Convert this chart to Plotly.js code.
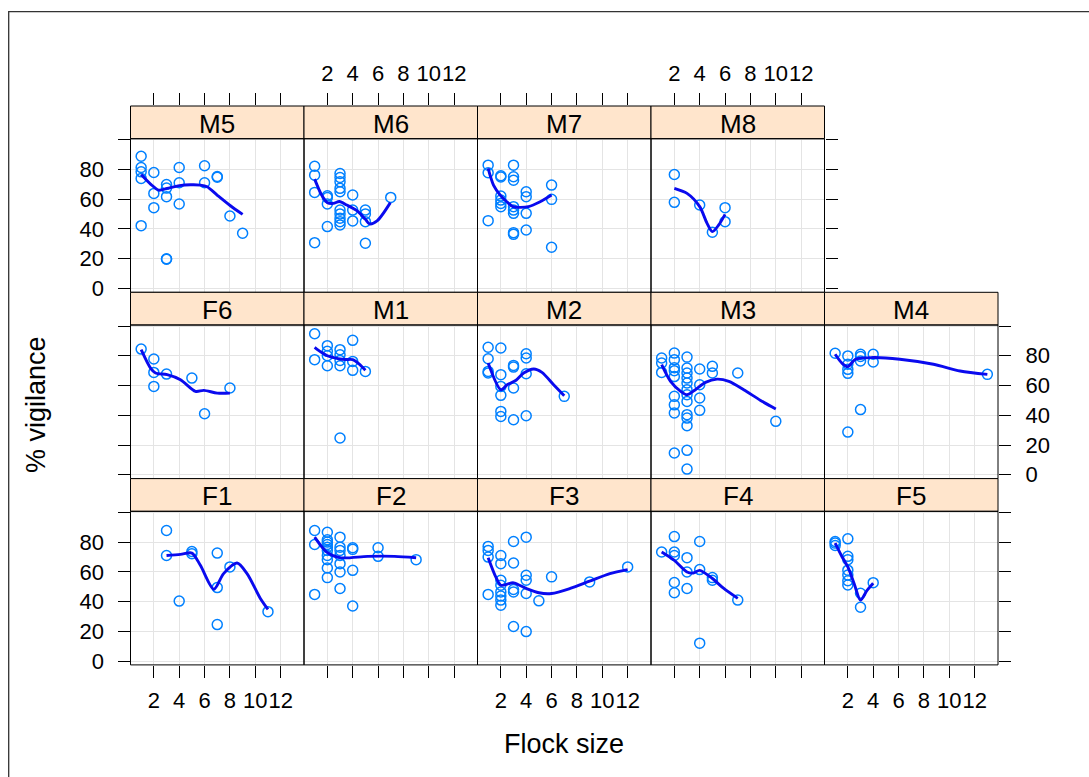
<!DOCTYPE html>
<html>
<head>
<meta charset="utf-8">
<script src="https://cdn.plot.ly/plotly-3.0.1.min.js"></script>
<style>html,body{margin:0;padding:0;background:#fff;}#chart{width:1089px;height:777px;}</style>
</head>
<body>
<div id="chart"></div>
<script>
// ---------------- data ----------------
const panelNames = ["M5","M6","M7","M8","F6","M1","M2","M3","M4","F1","F2","F3","F4","F5"];
const xTickVals = [2,4,6,8,10,12];
const xTickText = ["2","4","6","8","10","12"];
const yTickVals = [0,20,40,60,80,100];
const yTickText = ["0","20","40","60","80",""];

const M5_x = [1,1,1,1,1, 2,2,2, 3,3,3,3,3, 4,4,4, 6,6, 7,7, 8, 9];
const M5_y = [88.9,81.3,78.4,74.0,42.2, 78.0,63.9,54.3, 69.9,67.5,61.7,19.9,19.6, 81.3,71.1,56.8, 82.5,71.1, 75.3,74.8, 48.7, 37.1];
const M5_sx = [1,1.74,2.39,3.05,4.02,4.89,5.67,6.2,6.99,8.04,9];
const M5_sy = [76.6,70.2,66.1,67.3,69.1,69.7,69.5,68.4,62.8,55.6,49.8];

const M6_x = [1,1,1,1, 2,2,2,2, 3,3,3,3,3,3,3,3,3,3, 4,4,4, 5,5,5,5, 7];
const M6_y = [82.2,76.2,64.6,30.8, 62.3,61.2,56.8,41.6, 77.3,74.6,71.7,67.3,65.0,52.7,50.1,47.2,44.9,42.7, 62.8,52.7,45.4, 52.7,50.1,44.9,30.4, 61.2];
const M6_sx = [1,1.55,2,2.48,2.95,3.53,4.33,5,5.33,5.92,6.97];
const M6_sy = [73.5,62.8,57.7,57.2,58.5,56.1,52.3,46.5,43.4,45.4,57.7];

const M7_x = [1,1,1, 2,2,2,2,2,2, 3,3,3,3,3,3,3,3, 4,4,4,4, 6,6,6];
const M7_y = [82.9,77.8,45.6, 75.8,75.0,62.1,59.4,57.2,55.0, 82.9,75.1,72.8,55.0,52.7,50.5,37.5,36.4, 65.0,61.7,50.5,39.3, 69.5,59.9,27.7];
const M7_sx = [1,1.42,1.95,2.47,2.95,3.53,4.18,5.1,6];
const M7_sy = [80.7,69.5,62.8,58.3,55.0,54.5,55.0,58.3,62.8];

const M8_x = [2,2,4,5,6,6];
const M8_y = [76.6,57.9,56.1,37.8,54.3,44.9];
const M8_sx = [2,3,4,4.58,5,5.5,6];
const M8_sy = [67.3,63.9,55.0,43.8,38.2,42.7,49.8];

const F6_x = [1,2,2,2,3,5,6,8];
const F6_y = [84.5,77.8,68.8,59.4,67.7,65.0,41.0,58.3];
const F6_sx = [1,1.74,2.13,3.05,4.1,5.28,5.94,7,8];
const F6_sy = [84.1,71.7,68.4,67.3,63.9,56.1,56.7,54.9,54.9];

const M1_x = [1,1, 2,2,2,2, 3,3,3,3,3, 4,4,4, 5];
const M1_y = [94.8,77.4, 86.8,83.0,80.0,73.3, 84.1,80.7,76.9,73.3,24.7, 90.4,76.2,70.2, 69.5];
const M1_sx = [1,1.5,2,2.5,3,3.5,4,4.5,5];
const M1_sy = [85.7,82.5,80.0,78.8,77.8,77.5,77.4,74.5,70.2];

const M2_x = [1,1,1,1, 2,2,2,2,2,2, 3,3,3,3, 4,4,4,4, 7];
const M2_y = [85.7,78.0,69.5,68.4, 85.2,67.3,59.4,53.4,42.6,39.2, 73.5,72.4,58.3,37.0, 81.4,78.5,67.9,39.7, 52.7];
const M2_sx = [1,2,2.5,3.2,3.8,4.6,5.24,6.16,7];
const M2_sy = [75.1,57.2,60.5,63.5,68.4,71.1,68.8,60.5,53.1];

const M3_x = [1,1,1, 2,2,2,2,2,2,2,2,2, 3,3,3,3,3,3,3,3,3,3,3,3,3, 4,4,4,4, 5,5, 7, 10];
const M3_y = [78.5,75.1,68.8, 81.8,77.4,72.0,70.0,66.0,52.7,47.0,41.5,14.6,
              79.1,71.7,68.4,65.0,61.7,57.2,53.8,49.3,40.4,38.1,33.0,16.4,3.8,
              71.1,60.5,51.6,43.3, 72.9,68.4, 68.4, 35.9];
const M3_sx = [1,1.7,2.5,3,3.66,4.45,5.37,6.3,7.47,8.8,10];
const M3_sy = [74,62.8,56.1,53.8,57.2,62.1,64.3,62.8,57.2,50,44.2];

const M4_x = [1,2,2,2,2,2,3,3,3,3,4,4,13];
const M4_y = [81.7,79.9,74.3,70.9,68.2,28.7,81.0,79.5,76.5,43.8,81.0,75.8,67.5];
const M4_sx = [1,1.55,2,2.6,4,6.1,8.75,10.85,13];
const M4_sy = [81,74.9,72.7,77.7,78.8,77.7,74.3,69.8,67.5];

const F1_x = [3,3,4,5,5,7,7,7,8,11];
const F1_y = [87.8,71.0,40.3,73.7,72.2,72.6,49.4,24.5,63.3,33.2];
const F1_sx = [3,4.1,5,5.67,6.73,7.5,8.56,9.35,10.4,11];
const F1_sy = [71,71.7,72.6,64.4,48.3,58.8,65.9,58.8,42.1,34.7];

const F2_x = [1,1,1, 2,2,2,2,2,2,2,2,2,2, 3,3,3,3,3,3,3, 4,4,4,4, 6,6, 9];
const F2_y = [87.8,78.4,44.8, 86.6,81.5,80.0,78.4,76.5,74.4,71.0,68.2,62.6,56.1,
              83.3,76.6,74.4,71.0,65.5,59.9,48.8, 76.2,75.1,61.0,37.0, 76.2,70.4, 68.2];
const F2_sx = [1,1.95,3,5.17,7.3,9];
const F2_sy = [83.3,73.3,69.5,70.4,70.4,69.5];

const F3_x = [1,1,1,1, 2,2,2,2,2,2,2,2, 3,3,3,3,3, 4,4,4,4,4, 5, 6, 9, 12];
const F3_y = [77.1,74.4,69.9,44.8, 71.0,65.5,54.3,51.0,46.5,43.7,41.0,37.6,
              80.4,65.9,48.1,46.5,23.2, 83.3,57.7,54.3,45.4,19.8, 40.5, 56.6, 53.2, 63.3];
const F3_sx = [1,1.6,2,3,4,5,6,7.47,9,10.6,12];
const F3_sy = [69.5,56.6,51,52.6,48.8,45.9,45.4,48.8,53.7,58.8,61.5];

const F4_x = [1, 2,2,2,2,2, 3,3,3, 4,4,4, 5,5, 7];
const F4_y = [73.3, 83.7,73.3,71.0,52.8,45.9, 69.5,59.9,48.8, 80.4,61.5,12.0, 56.1,54.3, 41.0];
const F4_sx = [1,2,3,3.5,4,5,5.9,7];
const F4_sy = [73.3,67.7,59.9,59.2,61,55.5,48.8,42.1];

const F5_x = [1,1,1, 2,2,2,2,2,2,2, 3,3, 4];
const F5_y = [80.4,79.3,77.7, 82.2,70.4,68.2,61.1,57.8,54.0,51.1, 45.6,36.2, 52.7];
const F5_sx = [1,1.55,2,2.5,3,3.5,4];
const F5_sy = [79.3,70,63.3,52,41,47.3,52.3];

const pointsX = {M5:M5_x,M6:M6_x,M7:M7_x,M8:M8_x,F6:F6_x,M1:M1_x,M2:M2_x,M3:M3_x,M4:M4_x,F1:F1_x,F2:F2_x,F3:F3_x,F4:F4_x,F5:F5_x};
const pointsY = {M5:M5_y,M6:M6_y,M7:M7_y,M8:M8_y,F6:F6_y,M1:M1_y,M2:M2_y,M3:M3_y,M4:M4_y,F1:F1_y,F2:F2_y,F3:F3_y,F4:F4_y,F5:F5_y};
const smoothX = {M5:M5_sx,M6:M6_sx,M7:M7_sx,M8:M8_sx,F6:F6_sx,M1:M1_sx,M2:M2_sx,M3:M3_sx,M4:M4_sx,F1:F1_sx,F2:F2_sx,F3:F3_sx,F4:F4_sx,F5:F5_sx};
const smoothY = {M5:M5_sy,M6:M6_sy,M7:M7_sy,M8:M8_sy,F6:F6_sy,M1:M1_sy,M2:M2_sy,M3:M3_sy,M4:M4_sy,F1:F1_sy,F2:F2_sy,F3:F3_sy,F4:F4_sy,F5:F5_sy};

// ---------------- layout geometry ----------------
const W = 1089, H = 777;
const colLeft = [130.5, 304, 477.5, 651, 824.5];
const colW = 173.5;
const rowTop0 = 106, rowH = 186.3, stripH = 32.7, panelH = rowH - stripH;
const yLo = -2.6, yHi = 100.7;
const yTop = yHi + (yHi - yLo) * stripH / panelH;
const xRange = [0.16, 13.84];
const FONT = "Liberation Sans, Arial, sans-serif";
const TICKSIZE = 22, STRIPSIZE = 26, TITLESIZE = 27;

// panel positions: [row, col]
const grid = {M5:[0,0],M6:[0,1],M7:[0,2],M8:[0,3],
              F6:[1,0],M1:[1,1],M2:[1,2],M3:[1,3],M4:[1,4],
              F1:[2,0],F2:[2,1],F3:[2,2],F4:[2,3],F5:[2,4]};
const lastCol = [3,4,4];

const data = [];
const layout = {
  width: W, height: H,
  margin: {l:0, r:0, t:0, b:0},
  paper_bgcolor: "#ffffff", plot_bgcolor: "#ffffff",
  showlegend: false,
  font: {family: FONT, color: "#000"},
  shapes: [], annotations: []
};

panelNames.forEach((name, k) => {
  const [r, c] = grid[name];
  const xa = k === 0 ? "x" : "x" + (k + 1);
  const ya = k === 0 ? "y" : "y" + (k + 1);
  const xKey = k === 0 ? "xaxis" : "xaxis" + (k + 1);
  const yKey = k === 0 ? "yaxis" : "yaxis" + (k + 1);
  const left = colLeft[c], right = left + colW;
  const sTop = rowTop0 + r * rowH;
  const pTop = sTop + stripH;
  const pBot = sTop + rowH;

  data.push({
    type: "scatter", mode: "markers", x: pointsX[name], y: pointsY[name],
    xaxis: xa, yaxis: ya, hoverinfo: "skip",
    marker: {symbol: "circle-open", size: 10, color: "#0080ff", line: {width: 1.5, color: "#0080ff"}}
  });
  data.push({
    type: "scatter", mode: "lines", x: smoothX[name], y: smoothY[name],
    xaxis: xa, yaxis: ya, hoverinfo: "skip",
    line: {color: "#0a0aee", width: 2.9, shape: "spline", smoothing: 0.8}
  });

  const xTicks = (r === 0 || r === 2);
  const xLabels = (r === 0 && (c === 1 || c === 3)) || (r === 2 && (c % 2 === 0));
  layout[xKey] = {
    domain: [left / W, right / W], range: xRange, anchor: ya,
    side: r === 0 ? "top" : "bottom",
    tickmode: "array", tickvals: xTickVals, ticktext: xTickText,
    ticks: xTicks ? "outside" : "", ticklen: 12, tickwidth: 1, tickcolor: "#000",
    showticklabels: xLabels, tickangle: 0,
    ticklabelstandoff: r === 0 ? 3 : 4,
    tickfont: {family: FONT, size: TICKSIZE, color: "#000"},
    showgrid: true, gridcolor: "#e4e4e4", gridwidth: 1,
    zeroline: false, showline: false, fixedrange: true
  };

  const isLeft = c === 0, isRight = c === lastCol[r];
  const yTicks = isLeft || isRight;
  const yLabels = (isLeft && r !== 1) || (isRight && r === 1);
  layout[yKey] = {
    domain: [1 - pBot / H, 1 - sTop / H], range: [yLo, yTop], anchor: xa,
    side: isRight ? "right" : "left",
    tickmode: "array", tickvals: yTickVals, ticktext: yTickText,
    ticks: yTicks ? "outside" : "", ticklen: 12, tickwidth: 1, tickcolor: "#000",
    showticklabels: yLabels, ticklabelstandoff: isRight ? 10 : 9,
    tickfont: {family: FONT, size: TICKSIZE, color: "#000"},
    showgrid: true, gridcolor: "#e4e4e4", gridwidth: 1,
    zeroline: false, showline: false, fixedrange: true
  };

  // strip
  layout.shapes.push({type: "rect", xref: "paper", yref: "paper", layer: "above",
    x0: left / W, x1: right / W, y0: 1 - pTop / H, y1: 1 - sTop / H,
    fillcolor: "#ffe5cc", line: {color: "#000", width: 1}});
  // panel border
  layout.shapes.push({type: "rect", xref: "paper", yref: "paper", layer: "above",
    x0: left / W, x1: right / W, y0: 1 - pBot / H, y1: 1 - pTop / H,
    line: {color: "#000", width: 1}});
  layout.annotations.push({xref: "paper", yref: "paper", x: (left + colW / 2) / W,
    y: 1 - (sTop + stripH / 2 + 1.5) / H, text: name, showarrow: false,
    xanchor: "center", yanchor: "middle", font: {family: FONT, size: STRIPSIZE, color: "#000"}});
});

// outer frame
layout.shapes.push({type: "rect", xref: "paper", yref: "paper", layer: "above",
  x0: 8.7 / W, x1: 1.02, y0: -0.02, y1: 1 - 11.7 / H,
  line: {color: "#333", width: 1.3}});

layout.annotations.push({xref: "paper", yref: "paper", x: 36 / W, y: 1 - 405 / H,
  text: "% vigilance", textangle: -90, showarrow: false, xanchor: "center", yanchor: "middle",
  font: {family: FONT, size: TITLESIZE, color: "#000"}});
layout.annotations.push({xref: "paper", yref: "paper", x: 564 / W, y: 1 - 744 / H,
  text: "Flock size", showarrow: false, xanchor: "center", yanchor: "middle",
  font: {family: FONT, size: TITLESIZE, color: "#000"}});

Plotly.newPlot("chart", data, layout, {staticPlot: true, displayModeBar: false});
</script>
</body>
</html>
